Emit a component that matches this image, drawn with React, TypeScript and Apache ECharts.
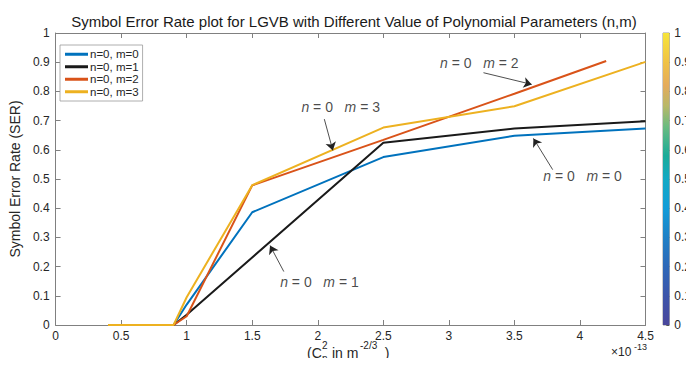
import React, { useEffect, useRef } from "react";
import * as echarts from "echarts";

// ---- data ----
const seriesNames = ["n=0, m=0", "n=0, m=1", "n=0, m=2", "n=0, m=3"];
const seriesColors = ["#0072BD", "#1a1a1a", "#D95319", "#EDB120"];

const xM0 = [0.4, 0.9, 1.0, 1.5, 2.5, 3.5, 4.5];
const serM0 = [0, 0, 0.07, 0.386, 0.575, 0.648, 0.673];
const xM1 = [0.4, 0.9, 1.0, 2.5, 3.5, 4.5];
const serM1 = [0, 0, 0.035, 0.624, 0.673, 0.698];
const xM2 = [0.4, 0.9, 1.0, 1.5, 2.5, 3.5, 4.2];
const serM2 = [0, 0, 0.03, 0.478, 0.634, 0.792, 0.904];
const xM3 = [0.4, 0.9, 1.0, 1.5, 2.5, 3.5, 4.5];
const serM3 = [0, 0, 0.095, 0.479, 0.676, 0.749, 0.901];

const xTicks = [0, 0.5, 1, 1.5, 2, 2.5, 3, 3.5, 4, 4.5];
const yTicks = [0, 0.1, 0.2, 0.3, 0.4, 0.5, 0.6, 0.7, 0.8, 0.9, 1];
const colorbarTicks = [0, 0.1, 0.2, 0.3, 0.4, 0.5, 0.6, 0.7, 0.8, 0.9, 1];

// annotation labels: [m value, x, y]
const annotM = ["2", "3", "0", "1"];
const annotX = [3.232, 2.175, 4.02, 2.013];
const annotY = [0.898, 0.746, 0.509, 0.146];
// arrows: tail (x,y) -> head (x,y)
const arrowTailX = [3.264, 2.05, 3.792, 1.741];
const arrowTailY = [0.864, 0.705, 0.532, 0.183];
const arrowHeadX = [3.632, 2.115, 3.645, 1.636];
const arrowHeadY = [0.824, 0.598, 0.639, 0.272];

// parula-like colour stops for the colour bar
const parulaStops = [
  [0, "#4a469b"],
  [0.1, "#3c55aa"],
  [0.2, "#2d68b8"],
  [0.3, "#1f80c6"],
  [0.4, "#119cd8"],
  [0.5, "#12a9c4"],
  [0.58, "#1aab98"],
  [0.68, "#6bbb80"],
  [0.75, "#b8b868"],
  [0.82, "#e4ab5c"],
  [0.9, "#f0c245"],
  [1, "#f6e43a"],
];

const FONT = "Liberation Sans, Arial, sans-serif";
const AXIS = "#808080";
const TXT = "#262626";

export default function App() {
  const ref = useRef<HTMLDivElement>(null);
  useEffect(() => {
    if (!ref.current) return;
    const chart = echarts.init(ref.current, undefined, { renderer: "svg" });

    const xs = [xM0, xM1, xM2, xM3];
    const ys = [serM0, serM1, serM2, serM3];
    const lineSeries = seriesNames.map((name, i) => ({
      type: "line",
      name,
      xAxisIndex: 0,
      yAxisIndex: 0,
      data: xs[i].map((x, j) => [x, ys[i][j]]),
      showSymbol: false,
      symbol: "none",
      lineStyle: { width: 2, color: seriesColors[i] },
      itemStyle: { color: seriesColors[i] },
      z: 3 + i,
    }));

    const annotSeries = {
      type: "scatter",
      name: "annot",
      xAxisIndex: 0,
      yAxisIndex: 0,
      symbolSize: 0,
      silent: true,
      z: 10,
      data: annotM.map((m, i) => ({
        value: [annotX[i], annotY[i]],
        label: {
          show: true,
          position: "inside",
          formatter: `{it|n}{r| = 0   }{it|m}{r| = ${m}}`,
          rich: {
            it: { fontStyle: "italic", fontSize: 14, fontFamily: FONT, color: "#1a1a1a" },
            r: { fontSize: 14, fontFamily: FONT, color: "#1a1a1a" },
          },
        },
      })),
    };

    const arrowSeries = {
      type: "lines",
      name: "arrows",
      coordinateSystem: "cartesian2d",
      xAxisIndex: 0,
      yAxisIndex: 0,
      silent: true,
      z: 11,
      symbol: ["none", "arrow"],
      symbolSize: 8,
      lineStyle: { color: "#222", width: 0.8, opacity: 1, curveness: 0 },
      itemStyle: { color: "#111" },
      data: arrowTailX.map((tx, i) => ({
        coords: [
          [tx, arrowTailY[i]],
          [arrowHeadX[i], arrowHeadY[i]],
        ],
      })),
    };

    const gradient = new echarts.graphic.LinearGradient(
      0,
      1,
      0,
      0,
      parulaStops.map(([o, c]) => ({ offset: o as number, color: c as string }))
    );

    const colorbarSeries = {
      type: "bar",
      name: "colorbar",
      xAxisIndex: 2,
      yAxisIndex: 2,
      data: [1],
      barWidth: "100%",
      silent: true,
      itemStyle: { color: gradient },
      z: 1,
    };

    const sub = { fontSize: 10, fontFamily: FONT, fill: TXT };
    const main = { fontSize: 14, fontFamily: FONT, fill: TXT };

    chart.setOption({
      animation: false,
      backgroundColor: "#ffffff",
      title: {
        text: "Symbol Error Rate plot for LGVB with Different Value of Polynomial Parameters (n,m)",
        left: 349,
        textAlign: "center",
        top: 9,
        textStyle: { fontSize: 15, fontWeight: "normal", fontFamily: FONT, color: "#1a1a1a" },
      },
      legend: {
        data: seriesNames,
        orient: "vertical",
        left: 60,
        top: 45,
        backgroundColor: "#ffffff",
        borderColor: "#9a9a9a",
        borderWidth: 0.8,
        padding: [3, 4, 3, 5],
        itemWidth: 23,
        itemHeight: 3,
        itemGap: 0,
        icon: "rect",
        textStyle: { fontSize: 11.5, fontFamily: FONT, color: TXT, lineHeight: 12.5, padding: [0, 0, 0, -3] },
      },
      grid: [
        { left: 49, top: 33, width: 596.5, height: 292, show: false },
        { left: 663, top: 33, width: 17, height: 292, show: true, borderColor: AXIS, borderWidth: 0.8, backgroundColor: "transparent" },
      ],
      xAxis: [
        {
          type: "value",
          gridIndex: 0,
          min: 0,
          max: 4.5,
          interval: 0.5,
          position: "bottom",
          axisLine: { show: true, onZero: false, lineStyle: { color: AXIS, width: 1 } },
          axisTick: { show: true, inside: true, length: 5, lineStyle: { color: AXIS } },
          axisLabel: {
            fontSize: 12,
            fontFamily: FONT,
            color: TXT,
            margin: 5,
            formatter: (v: number) => (xTicks.includes(v) ? String(v) : ""),
          },
          splitLine: { show: false },
        },
        {
          type: "value",
          gridIndex: 0,
          min: 0,
          max: 4.5,
          interval: 0.5,
          position: "top",
          axisLine: { show: true, onZero: false, lineStyle: { color: AXIS, width: 1 } },
          axisTick: { show: true, inside: true, length: 5, lineStyle: { color: AXIS } },
          axisLabel: { show: false },
          splitLine: { show: false },
        },
        {
          type: "category",
          gridIndex: 1,
          data: [""],
          show: false,
        },
      ],
      yAxis: [
        {
          type: "value",
          gridIndex: 0,
          min: 0,
          max: 1,
          interval: 0.1,
          position: "left",
          name: "Symbol Error Rate (SER)",
          nameLocation: "middle",
          nameGap: 25,
          nameTextStyle: { fontSize: 14, fontFamily: FONT, color: TXT },
          axisLine: { show: true, onZero: false, lineStyle: { color: AXIS, width: 1 } },
          axisTick: { show: true, inside: true, length: 5, lineStyle: { color: AXIS } },
          axisLabel: {
            fontSize: 12,
            fontFamily: FONT,
            color: TXT,
            margin: 6,
            formatter: (v: number) => {
              const t = yTicks.find((k) => Math.abs(k - v) < 1e-9);
              return t === undefined ? "" : String(t);
            },
          },
          splitLine: { show: false },
        },
        {
          type: "value",
          gridIndex: 0,
          min: 0,
          max: 1,
          interval: 0.1,
          position: "right",
          axisLine: { show: true, onZero: false, lineStyle: { color: AXIS, width: 1 } },
          axisTick: { show: true, inside: true, length: 5, lineStyle: { color: AXIS } },
          axisLabel: { show: false },
          splitLine: { show: false },
        },
        {
          type: "value",
          gridIndex: 1,
          min: 0,
          max: 1,
          interval: 0.1,
          position: "right",
          axisLine: { show: false },
          axisTick: { show: true, inside: true, length: 3, lineStyle: { color: "#555" } },
          axisLabel: {
            fontSize: 12,
            fontFamily: FONT,
            color: TXT,
            margin: 5,
            formatter: (v: number) => {
              const t = colorbarTicks.find((k) => Math.abs(k - v) < 1e-9);
              return t === undefined ? "" : String(t);
            },
          },
          splitLine: { show: false },
        },
      ],
      graphic: [
        { type: "text", left: 307, top: 346, style: { text: "(C", ...main } },
        { type: "text", left: 322, top: 340, style: { text: "2", ...sub } },
        { type: "text", left: 322, top: 353, style: { text: "n", ...sub } },
        { type: "text", left: 328, top: 346, style: { text: " in m", ...main } },
        { type: "text", left: 360, top: 340, style: { text: "-2/3", ...sub } },
        { type: "text", left: 377, top: 346, style: { text: "  )", ...main } },
        { type: "text", left: 611, top: 346, style: { text: "\u00d710", ...main, fontSize: 12 } },
        { type: "text", left: 634, top: 342, style: { text: "-13", ...sub, fontSize: 9 } },
      ],
      series: [...lineSeries, annotSeries, arrowSeries, colorbarSeries],
    });
    return () => chart.dispose();
  }, []);
  return <div ref={ref} style={{ width: 694, height: 366, margin: -8 }} />;
}
